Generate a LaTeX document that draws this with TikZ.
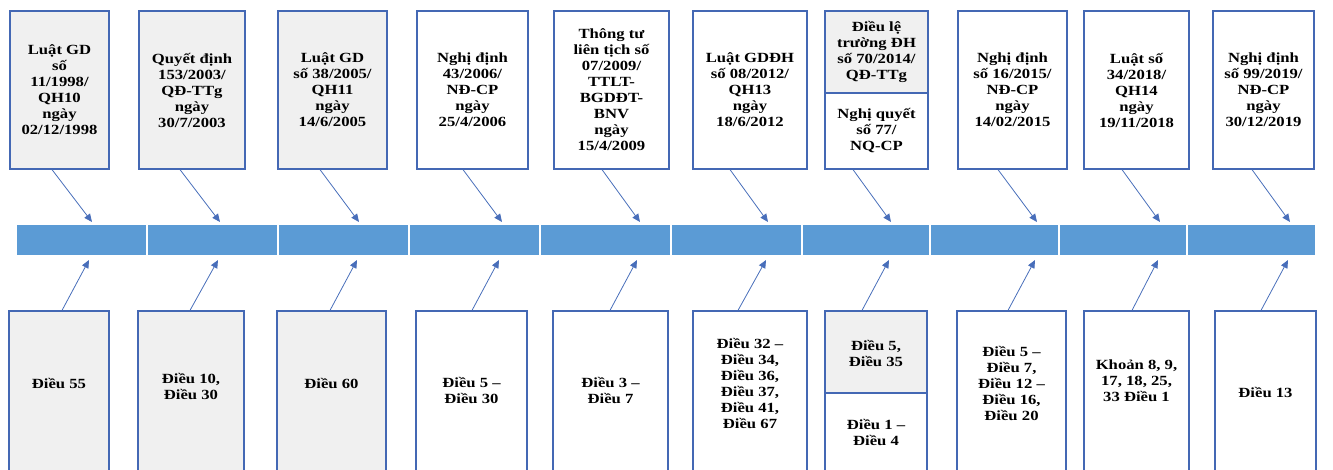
\documentclass[tikz,border=0pt]{standalone}
\usepackage{fontspec}
\setmainfont{Liberation Serif}[FakeStretch=1.19]
\usetikzlibrary{arrows.meta}
\definecolor{boxline}{RGB}{68,104,180}
\definecolor{barblue}{RGB}{91,155,213}
\definecolor{paper}{RGB}{240,240,240}
\definecolor{link}{RGB}{72,110,186}
\begin{document}
\begin{tikzpicture}[x=1pt,y=-1pt,
  doc/.style={draw=boxline, line width=1.2pt, fill=white, inner sep=0pt,
    align=center, font=\bfseries\fontsize{14}{16}\selectfont},
  grey/.style={fill=paper},
  seg/.style={fill=barblue, draw=none, inner sep=0pt, minimum height=30},
  lbl/.style={align=center, inner sep=0pt, font=\bfseries\fontsize{14}{16}\selectfont},
  arr/.style={draw=link, line width=0.8pt, -{Triangle[length=8pt,width=7pt]}}
]
\useasboundingbox (0,0) rectangle (1333,469);
\clip (0,0) rectangle (1333,469);

% ---- timeline bar ----
\node[seg, minimum width=129] (s1)  at (81.5,240)  {};
\node[seg, minimum width=129] (s2)  at (212.5,240) {};
\node[seg, minimum width=129] (s3)  at (343.5,240) {};
\node[seg, minimum width=129] (s4)  at (474.5,240) {};
\node[seg, minimum width=129] (s5)  at (605.5,240) {};
\node[seg, minimum width=129] (s6)  at (736.5,240) {};
\node[seg, minimum width=126] (s7)  at (866,240)   {};
\node[seg, minimum width=127] (s8)  at (994.5,240) {};
\node[seg, minimum width=126] (s9)  at (1123,240)  {};
\node[seg, minimum width=127] (s10) at (1251.5,240) {};

% ---- legal documents (top row) ----
\node[doc, grey, minimum width=99,  minimum height=158] (t1) at (59.5,90)
  {Luật GD\\số\\11/1998/\\QH10\\ngày\\02/12/1998};
\node[doc, grey, minimum width=106, minimum height=158] (t2) at (192,90)
  {Quyết định\\153/2003/\\QĐ-TTg\\ngày\\30/7/2003};
\node[doc, grey, minimum width=109, minimum height=158] (t3) at (332.5,90)
  {Luật GD\\số 38/2005/\\QH11\\ngày\\14/6/2005};
\node[doc, minimum width=111, minimum height=158] (t4) at (472.5,90)
  {Nghị định\\43/2006/\\NĐ-CP\\ngày\\25/4/2006};
\node[doc, minimum width=115, minimum height=158] (t5) at (611.5,90)
  {Thông tư\\liên tịch số\\07/2009/\\TTLT-\\BGDĐT-\\BNV\\ngày\\15/4/2009};
\node[doc, minimum width=114, minimum height=158] (t6) at (750,90)
  {Luật GDĐH\\số 08/2012/\\QH13\\ngày\\18/6/2012};
\node[doc, grey, minimum width=103, minimum height=82] (t7u) at (876.5,52)
  {Điều lệ\\trường ĐH\\số 70/2014/\\QĐ-TTg};
\node[doc, minimum width=103, minimum height=76] (t7) at (876.5,131)
  {Nghị quyết\\số 77/\\NQ-CP};
\node[doc, minimum width=109, minimum height=158] (t8) at (1012.5,90)
  {Nghị định\\số 16/2015/\\NĐ-CP\\ngày\\14/02/2015};
\node[doc, minimum width=105, minimum height=158] (t9) at (1136.5,90)
  {Luật số\\34/2018/\\QH14\\ngày\\19/11/2018};
\node[doc, minimum width=101, minimum height=158] (t10) at (1263.5,90)
  {Nghị định\\số 99/2019/\\NĐ-CP\\ngày\\30/12/2019};

% ---- articles (bottom row) ----
\node[doc, grey, minimum width=100, minimum height=169] (b1) at (59,395.5) {};
\node[doc, grey, minimum width=106, minimum height=169] (b2) at (191,395.5) {};
\node[doc, grey, minimum width=109, minimum height=169] (b3) at (331.5,395.5) {};
\node[doc, minimum width=111, minimum height=169] (b4) at (471.5,395.5) {};
\node[doc, minimum width=115, minimum height=169] (b5) at (610.5,395.5) {};
\node[doc, minimum width=114, minimum height=169] (b6) at (750,395.5) {};
\node[doc, grey, minimum width=102, minimum height=82] (b7) at (876,352) {};
\node[doc, minimum width=102, minimum height=87] (b7l) at (876,436.5) {};
\node[doc, minimum width=109, minimum height=169] (b8) at (1011.5,395.5) {};
\node[doc, minimum width=105, minimum height=169] (b9) at (1136.5,395.5) {};
\node[doc, minimum width=101, minimum height=169] (b10) at (1265.5,395.5) {};

\node[lbl] (c1)  at (59,383)    {Điều 55};
\node[lbl] (c2)  at (191,386)   {Điều 10,\\Điều 30};
\node[lbl] (c3)  at (331.5,383) {Điều 60};
\node[lbl] (c4)  at (471.5,390) {Điều 5 –\\Điều 30};
\node[lbl] (c5)  at (610.5,390) {Điều 3 –\\Điều 7};
\node[lbl] (c6)  at (750,383)   {Điều 32 –\\Điều 34,\\Điều 36,\\Điều 37,\\Điều 41,\\Điều 67};
\node[lbl] (c7)  at (876,353)   {Điều 5,\\Điều 35};
\node[lbl] (c7l) at (876,432)   {Điều 1 –\\Điều 4};
\node[lbl] (c8)  at (1011.5,383) {Điều 5 –\\Điều 7,\\Điều 12 –\\Điều 16,\\Điều 20};
\node[lbl] (c9)  at (1136.5,381) {Khoản 8, 9,\\17, 18, 25,\\33 Điều 1};
\node[lbl] (c10) at (1265.5,392) {Điều 13};

% ---- connectors to the timeline ----
\foreach \i/\dt/\ut/\db/\lb in {
  1/-7.5/92/3/89, 2/-12/220/-1/218, 3/-12.5/359/-1.5/357,
  4/-9.5/502/0.5/499, 5/-9.5/640/-0.5/637, 6/-20/768/-12/766,
  7/-23.5/891/-14/889, 8/-14.5/1037/-3.5/1035, 9/-14.5/1160/-4.5/1158,
  10/-11.5/1290/-4.5/1288} {
  \coordinate (up\i) at (\ut,222);
  \coordinate (dn\i) at (\lb,260);
  \draw[arr] ([xshift=\dt]t\i.south) -- (up\i);
  \draw[arr] ([xshift=\db]b\i.north) -- (dn\i);
}
\end{tikzpicture}
\end{document}
